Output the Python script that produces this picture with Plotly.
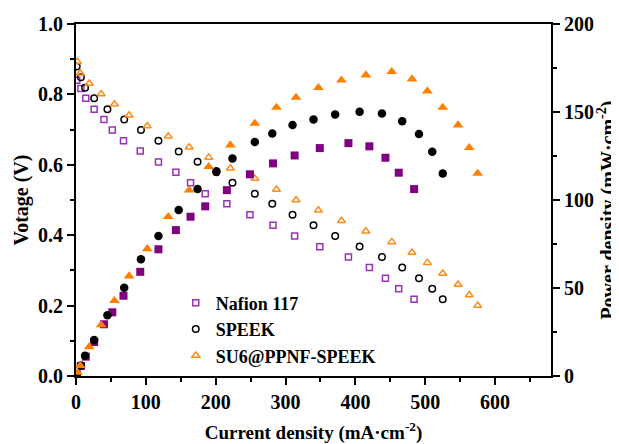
import plotly.graph_objects as go

# Nafion 117
naf_i = [1, 7, 14, 26, 40, 52, 68, 92, 118, 143, 164, 185, 216, 249, 282, 313, 349, 390, 420, 443, 462, 484]
naf_v = [0.84, 0.817, 0.789, 0.758, 0.729, 0.699, 0.668, 0.639, 0.608, 0.579, 0.549, 0.518, 0.489, 0.458,
         0.428, 0.398, 0.367, 0.338, 0.308, 0.278, 0.248, 0.218]
naf_p = [1, 5.7, 11, 19.3, 29.4, 36.2, 45.6, 59.2, 72, 82.9, 90.5, 96.4, 105.6, 114.6, 120.8, 125.3,
         129.5, 132.3, 130.5, 124, 115.5, 106.2]

# SPEEK
spk_i = [1, 7, 13, 26, 45, 69, 93, 118, 147, 174, 201, 224, 256, 281, 310, 340, 371, 406, 438, 467, 491, 510, 525]
spk_v = [0.879, 0.849, 0.819, 0.789, 0.758, 0.729, 0.699, 0.668, 0.638, 0.609, 0.579, 0.549, 0.518, 0.489,
         0.458, 0.428, 0.398, 0.368, 0.338, 0.308, 0.278, 0.248, 0.218]
spk_p = [1, 6, 11.5, 20.4, 34.5, 50.2, 66.3, 79.5, 94.3, 106.2, 116.4, 123.6, 132.9, 137.8, 142.6, 145.8,
         148.6, 150.1, 149.2, 144.8, 137.5, 127.4, 115.1]

# SU6@PPNF-SPEEK
su6_i = [2, 6, 19, 36, 55, 76, 102, 132, 162, 190, 221, 256, 287, 315, 347, 380, 415, 452, 481, 503, 525, 547, 563, 575]
su6_v = [0.893, 0.86, 0.831, 0.801, 0.772, 0.741, 0.710, 0.681, 0.65, 0.621, 0.59, 0.561, 0.53, 0.5, 0.471,
         0.441, 0.411, 0.381, 0.351, 0.322, 0.291, 0.26, 0.23, 0.2]
su6_p = [2, 5.9, 16.6, 29, 42.8, 56.8, 72.3, 90.5, 105.6, 118.9, 131.2, 143.5, 152.6, 158.3, 163.8, 168.1,
         171, 172.9, 168.7, 161.9, 152.6, 142.6, 129.7, 115.1]

names = ["Nafion 117", "SPEEK", "SU6@PPNF-SPEEK"]
colors_open = ["#9932B8", "#000000", "#FF8C1A"]
colors_fill = ["#800080", "#000000", "#FF8000"]

FONT = "Liberation Serif, Times New Roman, serif"
TICKFONT = dict(family=FONT, size=20, color="black", weight="bold")
TITLEFONT = dict(family=FONT, size=19, color="black", weight="bold")
YTITLEFONT = dict(family=FONT, size=20, color="black", weight="bold")

fig = go.Figure()

series = [(naf_i, naf_v, naf_p, "square"), (spk_i, spk_v, spk_p, "circle"), (su6_i, su6_v, su6_p, "triangle-up")]
open_sizes = [6, 6.5, 7]
fill_sizes = [8, 8.5, 9.5]

for k, (xi, vv, pp, sym) in enumerate(series):
    fig.add_trace(go.Scatter(
        x=xi, y=pp, mode="markers", yaxis="y2", showlegend=False,
        marker=dict(symbol=sym, size=fill_sizes[k], color=colors_fill[k], line=dict(width=0)),
    ))

for k, (xi, vv, pp, sym) in enumerate(series):
    fig.add_trace(go.Scatter(
        x=xi, y=vv, mode="markers", name=names[k],
        marker=dict(symbol=sym + "-open", size=open_sizes[k], color=colors_open[k],
                    line=dict(width=1.5, color=colors_open[k])),
    ))

axis_common = dict(
    showline=True, linecolor="black", linewidth=2, ticks="outside", tickcolor="black",
    tickwidth=2, ticklen=7, showgrid=False, zeroline=False, automargin=False,
    tickfont=TICKFONT,
)

fig.update_layout(
    width=619, height=444,
    margin=dict(l=68, r=76, t=16, b=76),
    paper_bgcolor="white", plot_bgcolor="white",
    font=dict(family=FONT, color="black"),
    xaxis=dict(range=[0, 680], dtick=100, tick0=0, mirror=True,
               minor=dict(dtick=50, ticks="outside", ticklen=4, tickcolor="black", tickwidth=2),
               title=dict(text="Current density (mA·cm<sup>-2</sup>)", font=TITLEFONT, standoff=14),
               tickformat="d", **axis_common),
    yaxis=dict(range=[0, 1.0], dtick=0.2, tickformat=".1f",
               minor=dict(dtick=0.1, ticks="outside", ticklen=4, tickcolor="black", tickwidth=2),
               title=dict(text="Votage (V)", font=YTITLEFONT, standoff=4),
               **axis_common),
    yaxis2=dict(range=[0, 200], dtick=50, overlaying="y", side="right",
                minor=dict(dtick=25, ticks="outside", ticklen=4, tickcolor="black", tickwidth=2),
                **axis_common),
    legend=dict(x=0.21, y=0.26, xanchor="left", yanchor="top", bgcolor="rgba(0,0,0,0)",
                font=dict(family=FONT, size=18, color="black", weight="bold"),
                tracegroupgap=0, itemsizing="trace"),
    annotations=[dict(text="Power density (mW·cm<sup>-2</sup>)", textangle=-90,
                      xref="paper", yref="paper", x=1.118, y=0.47, xanchor="center", yanchor="middle",
                      showarrow=False, font=YTITLEFONT)],
)

fig.write_html("out.html")
